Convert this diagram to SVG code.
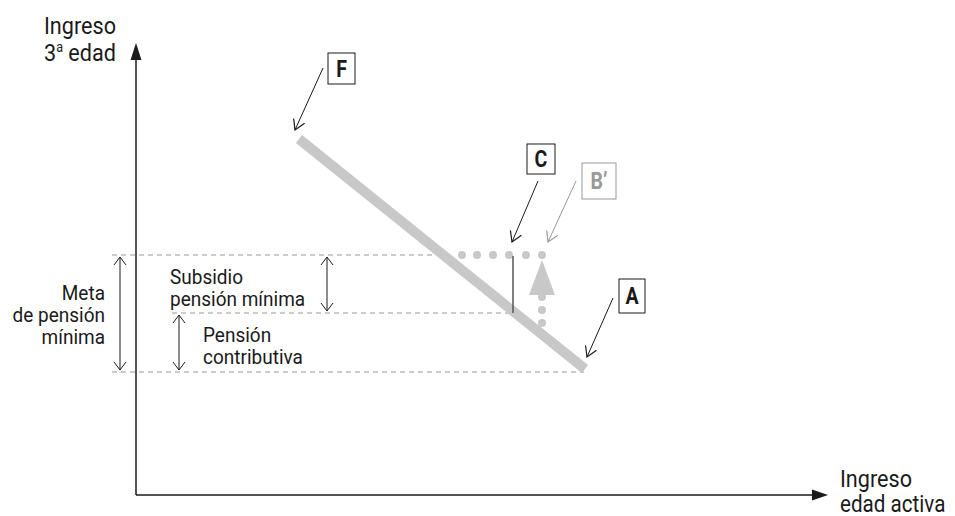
<svg xmlns="http://www.w3.org/2000/svg" width="955" height="516" viewBox="0 0 955 516">
<style>
text{font-family:Roboto,"Liberation Sans",sans-serif;font-size:20px;fill:#1a1a1a}
.ax{font-size:24px}
.lbl{font-weight:bold;font-size:23px;text-anchor:middle}
.box{fill:#fff;stroke:#1a1a1a;stroke-width:1}
.gbox{fill:#fff;stroke:#999;stroke-width:1}
.dash{stroke:#999;stroke-width:1;stroke-dasharray:5,4;fill:none}
.thin{stroke:#1a1a1a;stroke-width:1;fill:none}
.dot{fill:#c8c8c8}
</style>
<defs>
<marker id="open" viewBox="-10 -10 20 20" markerWidth="20" markerHeight="20" refX="0" refY="0" orient="auto" markerUnits="userSpaceOnUse">
<path d="M-10,-6 L0,0 L-10,6" fill="none" stroke="#1a1a1a" stroke-width="1.2"/>
</marker>
<marker id="openg" viewBox="-10 -10 20 20" markerWidth="20" markerHeight="20" refX="0" refY="0" orient="auto" markerUnits="userSpaceOnUse">
<path d="M-10,-6 L0,0 L-10,6" fill="none" stroke="#999" stroke-width="1.2"/>
</marker>
<marker id="small" viewBox="-10 -10 20 20" markerWidth="20" markerHeight="20" refX="0" refY="0" orient="auto-start-reverse" markerUnits="userSpaceOnUse">
<path d="M-8,-6 L0,0 L-8,6" fill="none" stroke="#1a1a1a" stroke-width="1"/>
</marker>
</defs>

<g id="axes">
<line x1="136" y1="495" x2="136" y2="58" stroke="#1a1a1a" stroke-width="1.5"/>
<polygon points="136,43 130.5,60 141.5,60" fill="#1a1a1a"/>
<line x1="136" y1="495" x2="812" y2="495" stroke="#1a1a1a" stroke-width="1.5"/>
<polygon points="828,495 812,489.5 812,500.5" fill="#1a1a1a"/>
<g transform="translate(44,34) scale(0.9,1)"><text class="ax">Ingreso</text></g>
<g transform="translate(44,61) scale(0.9,1)"><text class="ax">3<tspan font-size="14" dy="-9">a</tspan><tspan dy="9"> edad</tspan></text></g>
<g transform="translate(840,487) scale(0.9,1)"><text class="ax">Ingreso</text></g>
<g transform="translate(840,512) scale(0.86,1)"><text class="ax">edad activa</text></g>
</g>

<g id="levels">
<line class="dash" x1="112" y1="255" x2="446" y2="255"/>
<line class="dash" x1="172" y1="313" x2="513" y2="313"/>
<line class="dash" x1="112" y1="372" x2="584" y2="372"/>
</g>

<g id="budget-line">
<line x1="299" y1="139" x2="585" y2="369" stroke="#c8c8c8" stroke-width="10"/>
</g>

<g id="meta">
<line class="thin" x1="120" y1="257" x2="120" y2="370" marker-start="url(#small)" marker-end="url(#small)"/>
<g transform="translate(105,300) scale(0.95,1)"><text text-anchor="end">Meta</text></g>
<g transform="translate(105,322) scale(0.95,1)"><text text-anchor="end">de pensión</text></g>
<g transform="translate(105,344) scale(0.95,1)"><text text-anchor="end">mínima</text></g>
</g>

<g id="subsidio">
<line class="thin" x1="327" y1="257" x2="327" y2="311" marker-start="url(#small)" marker-end="url(#small)"/>
<g transform="translate(170,284) scale(0.95,1)"><text>Subsidio</text></g>
<g transform="translate(170,306) scale(0.95,1)"><text>pensión mínima</text></g>
</g>

<g id="contributiva">
<line class="thin" x1="179" y1="315" x2="179" y2="370" marker-start="url(#small)" marker-end="url(#small)"/>
<g transform="translate(203,342) scale(0.95,1)"><text>Pensión</text></g>
<g transform="translate(203,364) scale(0.95,1)"><text>contributiva</text></g>
</g>

<g id="shift">
<circle class="dot" cx="462" cy="255" r="4"/>
<circle class="dot" cx="477" cy="255" r="4"/>
<circle class="dot" cx="493" cy="255" r="4"/>
<circle class="dot" cx="509" cy="255" r="4"/>
<circle class="dot" cx="526" cy="255" r="4"/>
<circle class="dot" cx="542" cy="255" r="4"/>
<circle class="dot" cx="542" cy="297" r="4"/>
<circle class="dot" cx="542" cy="310" r="4"/>
<circle class="dot" cx="542" cy="323" r="4"/>
<polygon points="542,260 529,295 555,295" fill="#c8c8c8"/>
<line x1="513" y1="256" x2="513" y2="313" stroke="#555" stroke-width="1.5"/>
</g>

<g id="node-F">
<rect class="box" x="328" y="53" width="27" height="31"/>
<g transform="translate(341.5,77) scale(0.85,1)"><text class="lbl">F</text></g>
</g>
<g id="node-C">
<rect class="box" x="527" y="144" width="28" height="30"/>
<g transform="translate(541,167) scale(0.85,1)"><text class="lbl">C</text></g>
</g>
<g id="node-B">
<rect class="gbox" x="582" y="163" width="34" height="36"/>
<g transform="translate(599,189) scale(0.85,1)"><text class="lbl" style="fill:#999">B’</text></g>
</g>
<g id="node-A">
<rect class="box" x="619" y="279" width="26" height="34"/>
<g transform="translate(632,304) scale(0.85,1)"><text class="lbl">A</text></g>
</g>

<g id="connectors">
<line class="thin" x1="323" y1="68" x2="295" y2="130" marker-end="url(#open)"/>
<line class="thin" x1="538" y1="181" x2="512" y2="242" marker-end="url(#open)"/>
<line x1="576" y1="181" x2="548" y2="242" stroke="#999" stroke-width="1" marker-end="url(#openg)"/>
<line class="thin" x1="613" y1="298" x2="587" y2="357" marker-end="url(#open)"/>
</g>
</svg>
